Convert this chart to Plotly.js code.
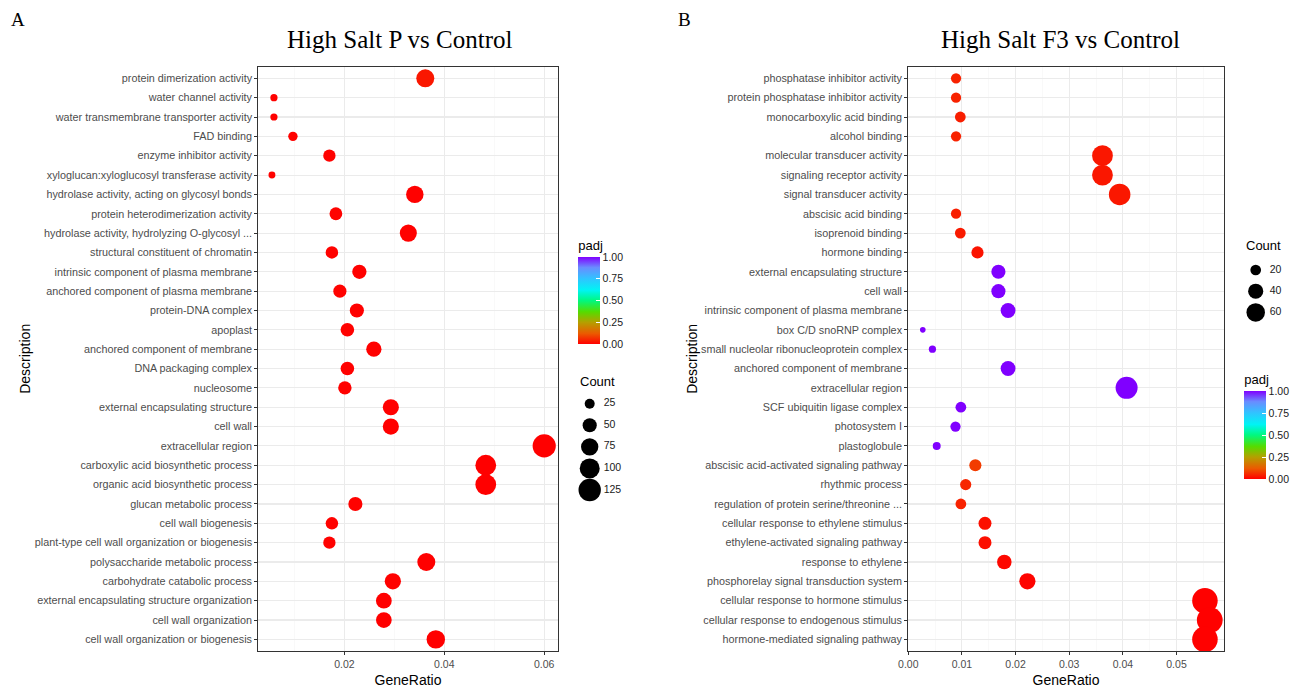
<!DOCTYPE html>
<html>
<head>
<meta charset="utf-8">
<script src="https://cdn.plot.ly/plotly-3.0.1.min.js"></script>
<style>html,body{margin:0;padding:0;background:#fff;}#chart{width:1309px;height:689px;}</style>
</head>
<body>
<div id="chart"></div>
<script>
// ---------- Panel A data ----------
const leftTerms = [
  "protein dimerization activity",
  "water channel activity",
  "water transmembrane transporter activity",
  "FAD binding",
  "enzyme inhibitor activity",
  "xyloglucan:xyloglucosyl transferase activity",
  "hydrolase activity, acting on glycosyl bonds",
  "protein heterodimerization activity",
  "hydrolase activity, hydrolyzing O-glycosyl ...",
  "structural constituent of chromatin",
  "intrinsic component of plasma membrane",
  "anchored component of plasma membrane",
  "protein-DNA complex",
  "apoplast",
  "anchored component of membrane",
  "DNA packaging complex",
  "nucleosome",
  "external encapsulating structure",
  "cell wall",
  "extracellular region",
  "carboxylic acid biosynthetic process",
  "organic acid biosynthetic process",
  "glucan metabolic process",
  "cell wall biogenesis",
  "plant-type cell wall organization or biogenesis",
  "polysaccharide metabolic process",
  "carbohydrate catabolic process",
  "external encapsulating structure organization",
  "cell wall organization",
  "cell wall organization or biogenesis"
];
const leftRatio = [0.0362,0.0059,0.0059,0.0097,0.0170,0.0055,0.0341,0.0183,0.0328,0.0175,
                   0.0230,0.0191,0.0225,0.0206,0.0259,0.0206,0.0201,0.0293,0.0293,0.0600,
                   0.0483,0.0483,0.0222,0.0175,0.0170,0.0364,0.0297,0.0279,0.0279,0.0383];
const leftCount = [81,13,13,22,38,12,76,41,73,39,51,43,50,46,58,46,45,65,65,134,
                   108,108,50,39,38,81,66,62,62,85];
const leftPadj = [0.03,0.001,0.001,0.002,0.003,0.002,0.001,0.004,0.001,0.002,
                  0.001,0.002,0.001,0.002,0.001,0.001,0.001,0.0005,0.0005,0.0001,
                  0.0001,0.0001,0.002,0.002,0.003,0.0002,0.001,0.0005,0.0005,0.0001];
const leftCountBreaks = [25,50,75,100,125];

// ---------- Panel B data ----------
const rightTerms = [
  "phosphatase inhibitor activity",
  "protein phosphatase inhibitor activity",
  "monocarboxylic acid binding",
  "alcohol binding",
  "molecular transducer activity",
  "signaling receptor activity",
  "signal transducer activity",
  "abscisic acid binding",
  "isoprenoid binding",
  "hormone binding",
  "external encapsulating structure",
  "cell wall",
  "intrinsic component of plasma membrane",
  "box C/D snoRNP complex",
  "small nucleolar ribonucleoprotein complex",
  "anchored component of membrane",
  "extracellular region",
  "SCF ubiquitin ligase complex",
  "photosystem I",
  "plastoglobule",
  "abscisic acid-activated signaling pathway",
  "rhythmic process",
  "regulation of protein serine/threonine ...",
  "cellular response to ethylene stimulus",
  "ethylene-activated signaling pathway",
  "response to ethylene",
  "phosphorelay signal transduction system",
  "cellular response to hormone stimulus",
  "cellular response to endogenous stimulus",
  "hormone-mediated signaling pathway"
];
const rightRatio = [0.0089,0.0089,0.0097,0.0089,0.0362,0.0362,0.0394,0.0089,0.0097,0.0129,
                    0.0168,0.0168,0.0186,0.0027,0.0045,0.0186,0.0407,0.0098,0.0088,0.0053,
                    0.0125,0.0107,0.0098,0.0143,0.0143,0.0179,0.0222,0.0553,0.0562,0.0553];
const rightCount = [10,10,11,10,41,41,44,10,11,14,19,19,21,3,5,21,46,11,10,6,
                    14,12,11,16,16,20,25,62,63,62];
const rightPadj = [0.045,0.045,0.04,0.045,0.03,0.03,0.03,0.04,0.035,0.025,
                   1,1,1,1,1,1,1,1,1,1,
                   0.08,0.05,0.045,0.02,0.02,0.01,0.005,0.001,0.001,0.001];
const rightCountBreaks = [20,40,60];

const padjTicks = [0,0.25,0.5,0.75,1];

// ---------- styling ----------
const W = 1309, H = 689;
const px = v => v / W;
const py = v => 1 - v / H;
const sansFont = "Liberation Sans, Arial, Helvetica, sans-serif";
const serifFont = "Liberation Serif, Times New Roman, serif";
const rainbow = [
  [0.00,'#ff0000'],[0.12,'#eb5a00'],[0.25,'#b4a000'],[0.37,'#55dc00'],
  [0.50,'#00f880'],[0.62,'#00f4f4'],[0.75,'#30c4ff'],[0.88,'#6a8cff'],[1.00,'#8000ff']
];
const refL = 0.5, refR = 0.19, refRLeg = 0.35;
const labelSize = 10.8;

function colorbar(xLeft, yTop, yBottom) {
  return {
    x: px(xLeft), xanchor: 'left',
    y: py((yTop + yBottom) / 2), yanchor: 'middle',
    len: yBottom - yTop, lenmode: 'pixels',
    thickness: 22, thicknessmode: 'pixels',
    outlinewidth: 0, xpad: 0, ypad: 0,
    tickvals: padjTicks, tickformat: '.2f',
    ticks: 'inside', ticklen: 4, tickcolor: '#ffffff', tickwidth: 1,
    tickfont: {family: sansFont, size: 10.5, color: '#1a1a1a'},
    title: {text: 'padj', side: 'top', font: {family: sansFont, size: 13, color: '#000'}}
  };
}

const traces = [
  {
    type: 'scatter', mode: 'markers', xaxis: 'x', yaxis: 'y',
    x: leftRatio, y: leftTerms,
    marker: {size: leftCount, sizemode: 'area', sizeref: refL, color: leftPadj,
             coloraxis: 'coloraxis', line: {width: 0}, opacity: 1},
    showlegend: false, hoverinfo: 'x+y'
  },
  {
    type: 'scatter', mode: 'markers', xaxis: 'x2', yaxis: 'y2',
    x: rightRatio, y: rightTerms,
    marker: {size: rightCount, sizemode: 'area', sizeref: refR, color: rightPadj,
             coloraxis: 'coloraxis2', line: {width: 0}, opacity: 1},
    showlegend: false, hoverinfo: 'x+y'
  },
  // Count legend keys, panel A
  {
    type: 'scatter', mode: 'markers', xaxis: 'x3', yaxis: 'y3', cliponaxis: false,
    x: leftCountBreaks.map(() => 0), y: leftCountBreaks.map((_, i) => i),
    marker: {size: leftCountBreaks, sizemode: 'area', sizeref: refL, color: '#000000',
             line: {width: 0}, opacity: 1},
    showlegend: false, hoverinfo: 'skip'
  },
  {
    type: 'scatter', mode: 'text', xaxis: 'x3', yaxis: 'y3', cliponaxis: false,
    x: leftCountBreaks.map(() => 14), y: leftCountBreaks.map((_, i) => i),
    text: leftCountBreaks.map(String), textposition: 'middle right',
    textfont: {family: sansFont, size: 10.5, color: '#1a1a1a'},
    showlegend: false, hoverinfo: 'skip'
  },
  // Count legend keys, panel B
  {
    type: 'scatter', mode: 'markers', xaxis: 'x4', yaxis: 'y4', cliponaxis: false,
    x: rightCountBreaks.map(() => 0), y: rightCountBreaks.map((_, i) => i),
    marker: {size: rightCountBreaks, sizemode: 'area', sizeref: refRLeg, color: '#000000',
             line: {width: 0}, opacity: 1},
    showlegend: false, hoverinfo: 'skip'
  },
  {
    type: 'scatter', mode: 'text', xaxis: 'x4', yaxis: 'y4', cliponaxis: false,
    x: rightCountBreaks.map(() => 14), y: rightCountBreaks.map((_, i) => i),
    text: rightCountBreaks.map(String), textposition: 'middle right',
    textfont: {family: sansFont, size: 10.5, color: '#1a1a1a'},
    showlegend: false, hoverinfo: 'skip'
  }
];

function xAxis(domain, range, dtick, minorDtick, anchor) {
  return {
    anchor: anchor,
    domain: domain, range: range, tick0: 0, dtick: dtick, tickformat: '.2f',
    showgrid: true, gridcolor: '#ebebeb', gridwidth: 1.1,
    minor: {dtick: minorDtick, tick0: 0, showgrid: true, gridcolor: '#f5f5f5', gridwidth: 0.6, ticks: ''},
    zeroline: false, showline: true, mirror: true, linecolor: '#333333', linewidth: 1.1,
    ticks: 'outside', ticklen: 3, tickcolor: '#333333', tickwidth: 1,
    tickfont: {family: sansFont, size: 10.5, color: '#4d4d4d'},
    title: {text: 'GeneRatio', font: {family: sansFont, size: 14, color: '#000'}, standoff: 6},
    fixedrange: true
  };
}
function yAxis(domain, terms, anchor) {
  return {
    anchor: anchor,
    domain: domain, type: 'category', categoryorder: 'array', categoryarray: terms,
    range: [terms.length - 0.4, -0.6],
    showgrid: true, gridcolor: '#ebebeb', gridwidth: 1.1,
    zeroline: false, showline: true, mirror: true, linecolor: '#333333', linewidth: 1.1,
    ticks: 'outside', ticklen: 3, tickcolor: '#333333', tickwidth: 1,
    tickfont: {family: sansFont, size: labelSize, color: '#4d4d4d'},
    title: {text: 'Description', font: {family: sansFont, size: 14, color: '#000'}, standoff: 0},
    fixedrange: true
  };
}
function hiddenAxis(domain, range, anchor) {
  return {anchor: anchor, domain: domain, range: range, visible: false,
          showgrid: false, zeroline: false, fixedrange: true};
}

const yDom = [py(651), py(66.7)];
const layout = {
  width: W, height: H,
  margin: {l: 0, r: 0, t: 0, b: 0, pad: 0},
  paper_bgcolor: '#ffffff', plot_bgcolor: '#ffffff',
  showlegend: false,
  font: {family: sansFont},
  xaxis: xAxis([px(258.3), px(557.7)], [0.00277, 0.0627], 0.02, 0.01, 'y'),
  yaxis: yAxis(yDom, leftTerms, 'x'),
  xaxis2: xAxis([px(908.3), px(1223.7)], [0.0, 0.0588], 0.01, 0.005, 'y2'),
  yaxis2: yAxis(yDom, rightTerms, 'x2'),
  xaxis3: hiddenAxis([px(580), px(680)], [-9.7, 90.3], 'y3'),
  yaxis3: hiddenAxis([py(500.8), py(392.9)], [leftCountBreaks.length - 0.5, -0.5], 'x3'),
  xaxis4: hiddenAxis([px(1245), px(1300)], [-10.7, 44.3], 'y4'),
  yaxis4: hiddenAxis([py(323), py(259.4)], [rightCountBreaks.length - 0.5, -0.5], 'x4'),
  coloraxis: {colorscale: rainbow, cmin: 0, cmax: 1, colorbar: colorbar(578.3, 237, 344)},
  coloraxis2: {colorscale: rainbow, cmin: 0, cmax: 1, colorbar: colorbar(1244.3, 371.7, 479.3)},
  annotations: [
    {text: 'A', xref: 'paper', yref: 'paper', x: px(9), y: py(20), xanchor: 'left', yanchor: 'middle',
     showarrow: false, font: {family: serifFont, size: 19, color: '#000'}},
    {text: 'B', xref: 'paper', yref: 'paper', x: px(676), y: py(20), xanchor: 'left', yanchor: 'middle',
     showarrow: false, font: {family: serifFont, size: 19, color: '#000'}},
    {text: 'High Salt P vs Control', xref: 'paper', yref: 'paper', x: px(400), y: py(40),
     xanchor: 'center', yanchor: 'middle', showarrow: false, font: {family: serifFont, size: 25, color: '#000'}},
    {text: 'High Salt F3 vs Control', xref: 'paper', yref: 'paper', x: px(1060), y: py(40),
     xanchor: 'center', yanchor: 'middle', showarrow: false, font: {family: serifFont, size: 25, color: '#000'}},
    {text: 'Count', xref: 'paper', yref: 'paper', x: px(578), y: py(381), xanchor: 'left', yanchor: 'middle',
     showarrow: false, font: {family: sansFont, size: 13, color: '#000'}},
    {text: 'Count', xref: 'paper', yref: 'paper', x: px(1244), y: py(246), xanchor: 'left', yanchor: 'middle',
     showarrow: false, font: {family: sansFont, size: 13, color: '#000'}}
  ]
};

Plotly.newPlot('chart', traces, layout, {displayModeBar: false, staticPlot: true});
</script>
</body>
</html>
